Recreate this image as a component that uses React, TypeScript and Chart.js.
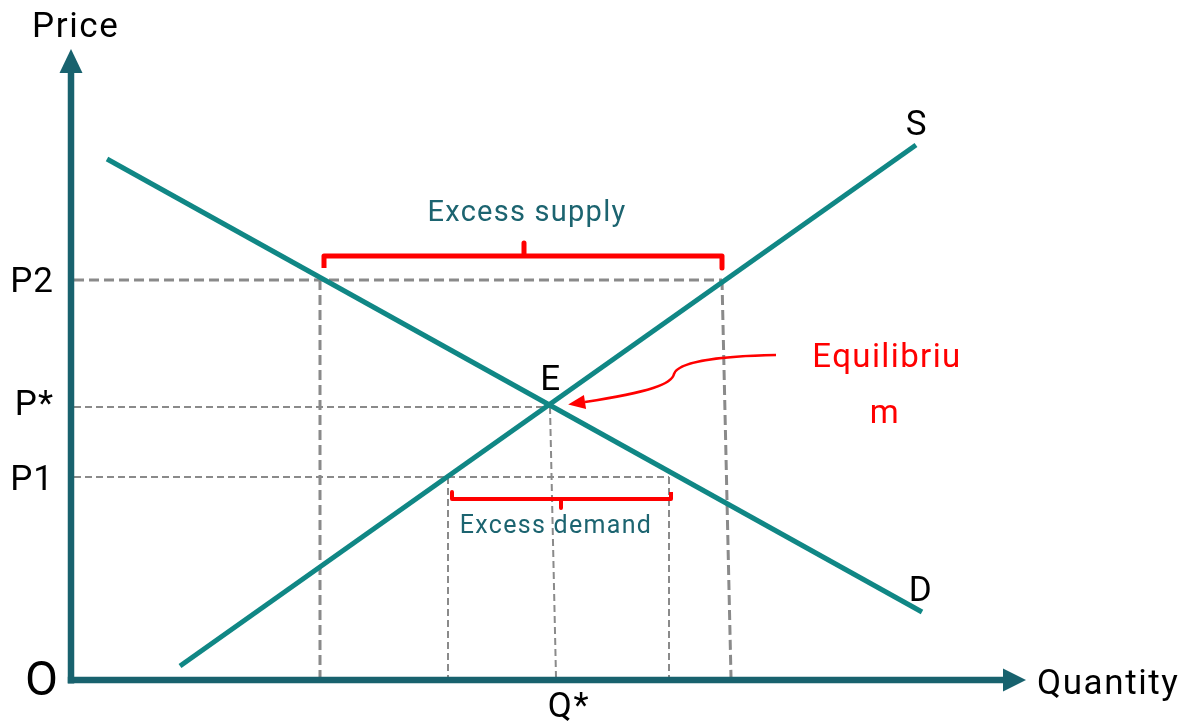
import React, { useEffect, useRef } from "react";
import { Chart, registerables } from "chart.js";

Chart.register(...registerables);

// Coordinates are (quantity, price) measured from the origin O.
const demandQ = [36, 851];
const demandP = [521, 68];
const supplyQ = [109, 845];
const supplyP = [14, 535];

const priceLevels = [400, 273, 203]; // P2, P*, P1
const priceNames = ["P2", "P*", "P1"];
const priceLabelBase = [388, 265, 190];

const qDemandAtP2 = 249;
const qSupplyAtP2 = [651, 660]; // top, foot of the guide
const qStar = [479, 485]; // top, foot of the guide
const qSupplyAtP1 = 377;
const qDemandAtP1 = 598;

const surplusBracketQ = [253, 453, 651];
const surplusBracketP = [424, 412, 437];
const shortageBracketQ = [381, 490, 600];
const shortageBracketP = [181, 188, 172];

const xAxisEnd = 955;
const yAxisEnd = 631;

const pointerQ = [705, 649, 607, 603, 601, 579, 514];
const pointerP = [325, 324, 318, 306, 296, 288, 278];

const labelTexts = ["Price", "O", "Q*", "Quantity", "E", "S", "D", "Excess supply", "Excess demand", "Equilibriu", "m"];
const labelQ = [-39, -46, 498, 966, 480, 846, 850, 456, 485, 816, 814];
const labelP = [643, -15, -37, -14, 290, 545, 79, 459, 147, 313, 257];

const TEAL = "rgb(16,135,133)";
const AXIS = "rgb(24,98,110)";
const DARK_TEAL = "rgb(28,100,112)";
const RED = "#ff0000";
const GREY = "#8a8a8a";
const FONT = "Roboto, 'Noto Sans', sans-serif";

const seg = (q1: number, p1: number, q2: number, p2: number) => [
  { x: q1, y: p1 },
  { x: q2, y: p2 },
];

const overlayPlugin = {
  id: "overlay",
  afterDatasetsDraw(chart: any) {
    const { ctx } = chart;
    const xs = chart.scales.x;
    const ys = chart.scales.y;
    const px = (q: number) => xs.getPixelForValue(q);
    const py = (p: number) => ys.getPixelForValue(p);
    ctx.save();

    // axis arrowheads
    ctx.fillStyle = AXIS;
    const yt = { x: px(0), y: py(yAxisEnd) };
    ctx.beginPath();
    ctx.moveTo(yt.x, yt.y);
    ctx.lineTo(yt.x - 11.5, yt.y + 24);
    ctx.lineTo(yt.x + 11.5, yt.y + 24);
    ctx.closePath();
    ctx.fill();
    const xt = { x: px(xAxisEnd), y: py(0) };
    ctx.beginPath();
    ctx.moveTo(xt.x, xt.y);
    ctx.lineTo(xt.x - 23, xt.y - 11.5);
    ctx.lineTo(xt.x - 23, xt.y + 11.5);
    ctx.closePath();
    ctx.fill();

    // curved pointer to equilibrium
    const P = pointerQ.map((q, i) => ({ x: px(q), y: py(pointerP[i]) }));
    ctx.strokeStyle = RED;
    ctx.lineWidth = 2.5;
    ctx.beginPath();
    ctx.moveTo(P[0].x, P[0].y);
    ctx.bezierCurveTo(P[1].x, P[1].y, P[2].x, P[2].y, P[3].x, P[3].y);
    ctx.bezierCurveTo(P[4].x, P[4].y, P[5].x, P[5].y, P[6].x, P[6].y);
    ctx.stroke();
    const dx = P[6].x - P[5].x;
    const dy = P[6].y - P[5].y;
    const len = Math.hypot(dx, dy);
    const ux = dx / len, uy = dy / len;
    const tip = { x: P[6].x + ux * 17, y: P[6].y + uy * 17 };
    ctx.fillStyle = RED;
    ctx.beginPath();
    ctx.moveTo(tip.x, tip.y);
    ctx.lineTo(P[6].x - uy * 7, P[6].y + ux * 7);
    ctx.lineTo(P[6].x + uy * 7, P[6].y - ux * 7);
    ctx.closePath();
    ctx.fill();

    // price labels
    ctx.textBaseline = "alphabetic";
    ctx.fillStyle = "#000";
    ctx.font = `35px ${FONT}`;
    ctx.letterSpacing = "1px";
    ctx.textAlign = "right";
    priceNames.forEach((t, i) => ctx.fillText(t, px(-17), py(priceLabelBase[i])));

    // other labels
    labelTexts.forEach((t, i) => {
      let font = `35px ${FONT}`;
      let color = "#000";
      let spacing = "1.6px";
      let align: CanvasTextAlign = "center";
      if (t === "Price" || t === "Quantity") align = "left";
      if (t === "O") { font = `48px ${FONT}`; align = "left"; spacing = "0px"; }
      if (t === "Excess supply") { font = `29px ${FONT}`; color = DARK_TEAL; spacing = "1.25px"; }
      if (t === "Excess demand") { font = `25px ${FONT}`; color = DARK_TEAL; spacing = "1.3px"; }
      if (t === "Equilibriu" || t === "m") { font = `33px ${FONT}`; color = RED; spacing = "1.4px"; }
      ctx.font = font;
      ctx.fillStyle = color;
      ctx.textAlign = align;
      ctx.letterSpacing = spacing;
      ctx.fillText(t, px(labelQ[i]), py(labelP[i]));
    });
    ctx.restore();
  },
};

export default function App() {
  const ref = useRef<HTMLCanvasElement | null>(null);

  useEffect(() => {
    if (!ref.current) return;
    const thick = { borderColor: GREY, borderWidth: 3, borderDash: [10, 5] };
    const thin = { borderColor: GREY, borderWidth: 2, borderDash: [7, 4] };
    const bracket = (Q: number[], P: number[], w: number) => ({
      data: [
        { x: Q[0], y: P[1] },
        { x: Q[0], y: P[0] },
        { x: Q[1], y: P[0] },
        { x: Q[1], y: P[2] },
        { x: Q[1], y: P[0] },
        { x: Q[2], y: P[0] },
        { x: Q[2], y: P[1] },
      ],
      borderColor: RED,
      borderWidth: w,
      borderJoinStyle: "round" as const,
    });
    const datasets: any[] = [
      bracket(surplusBracketQ, surplusBracketP, 5),
      bracket(shortageBracketQ, shortageBracketP, 4),
      {
        label: "Demand",
        data: demandQ.map((q, i) => ({ x: q, y: demandP[i] })),
        borderColor: TEAL,
        borderWidth: 5,
      },
      {
        label: "Supply",
        data: supplyQ.map((q, i) => ({ x: q, y: supplyP[i] })),
        borderColor: TEAL,
        borderWidth: 5,
      },
      { data: seg(0, -3.5, 0, yAxisEnd - 20), borderColor: AXIS, borderWidth: 6.5 },
      { data: seg(-3.2, 0, xAxisEnd - 20, 0), borderColor: AXIS, borderWidth: 6.5 },
      { data: seg(3, priceLevels[0], qSupplyAtP2[0], priceLevels[0]), ...thick },
      { data: seg(qDemandAtP2, priceLevels[0], qDemandAtP2, 3), ...thick },
      { data: seg(qSupplyAtP2[0], priceLevels[0], qSupplyAtP2[1], 3), ...thick },
      { data: seg(3, priceLevels[1], qStar[0], priceLevels[1]), ...thin },
      { data: seg(qStar[0], priceLevels[1], qStar[1], 3), ...thin },
      { data: seg(3, priceLevels[2], qDemandAtP1, priceLevels[2]), ...thin },
      { data: seg(qSupplyAtP1, priceLevels[2], qSupplyAtP1, 3), ...thin },
      { data: seg(qDemandAtP1, priceLevels[2], qDemandAtP1, 3), ...thin },
    ].map((d) => ({
      pointRadius: 0,
      fill: false,
      tension: 0,
      clip: false,
      borderCapStyle: "butt",
      ...d,
    }));

    const chart = new Chart(ref.current, {
      type: "line",
      data: { datasets },
      options: {
        animation: false,
        responsive: false,
        events: [],
        layout: { padding: 0 },
        plugins: { legend: { display: false }, tooltip: { enabled: false } },
        scales: {
          x: { type: "linear", min: -71, max: 1113, display: false },
          y: { type: "linear", min: -42, max: 680, display: false },
        },
      },
      plugins: [overlayPlugin],
    });
    return () => chart.destroy();
  }, []);

  return (
    <div style={{ position: "absolute", left: 0, top: 0, width: 1184, height: 722, background: "#fff" }}>
      <canvas ref={ref} width={1184} height={722} style={{ display: "block", width: 1184, height: 722 }} />
    </div>
  );
}
